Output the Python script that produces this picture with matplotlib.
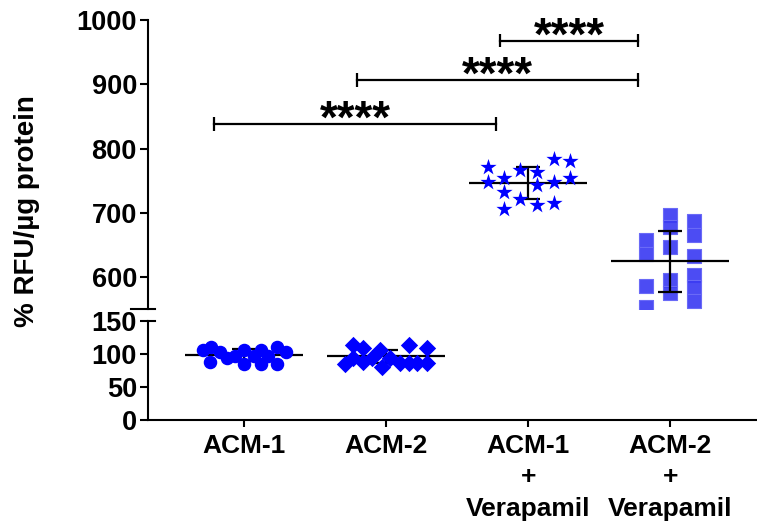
import matplotlib
matplotlib.use("Agg")
import matplotlib.pyplot as plt

plt.rcParams['font.family'] = ['Liberation Sans', 'DejaVu Sans']
plt.rcParams['font.weight'] = 'bold'

groups = ["ACM-1", "ACM-2", "ACM-1\n+\nVerapamil", "ACM-2\n+\nVerapamil"]

# x offsets inside each group (scatter spread) and values
acm1_dx = [-0.29, -0.23, -0.17, -0.24, -0.12, -0.06, 0.0, 0.0, 0.07, 0.12, 0.12, 0.17, 0.23, 0.23, 0.30]
acm1_y = [106, 111, 102.5, 87.5, 94, 96, 106, 85, 96, 105, 85, 96, 110, 85, 102.5]

acm2_dx = [-0.285, -0.23, -0.23, -0.16, -0.16, -0.095, -0.04, -0.025, 0.025, 0.10, 0.16, 0.16, 0.22, 0.29, 0.29]
acm2_y = [85, 114, 94, 109, 87.5, 94, 105, 80, 94, 86, 114, 86, 86, 109, 86]

acm1v_dx = [-0.284, -0.284, -0.167, -0.167, -0.167, -0.054, -0.054, 0.063, 0.063, 0.063, 0.18, 0.18, 0.18, 0.297, 0.297]
acm1v_y = [772, 748, 754, 732, 706, 767, 722, 763, 743, 713, 784, 748, 715, 781, 754]

acm2v_dx = [-0.168, -0.168, -0.168, -0.168, 0, 0, 0, 0, 0, 0.17, 0.17, 0.17, 0.17, 0.17, 0.17]
acm2v_y = [658, 636, 587, 554, 697, 678, 647, 596, 576, 687, 666, 633, 604, 584, 563]

means = [97.5, 96, 746.5, 624.5]
sds = [9, 10, 24.7, 47]

# significance brackets: (x start, x end, height)
brackets = [(-0.207, 1.777, 838), (0.796, 2.775, 907), (1.805, 2.775, 968)]

fig = plt.figure(figsize=(7.57, 5.27), dpi=100)
left = 148 / 757
width = 1 - left
ax_top = fig.add_axes([left, 1 - 309.3 / 527, width, (309.3 - 20) / 527])
ax_bot = fig.add_axes([left, 1 - 420 / 527, width, (420 - 320.7) / 527])

blue = '#0000ff'
sq_face = (0.22, 0.22, 0.95, 0.9)

ax_bot.scatter([0 + d for d in acm1_dx], acm1_y, s=76, marker='o', color=blue, zorder=3, clip_on=False)
ax_bot.scatter([1 + d for d in acm2_dx], acm2_y, s=78, marker='D', color=blue, zorder=3, clip_on=False,
               linewidths=0)
ax_top.scatter([2 + d for d in acm1v_dx], acm1v_y, s=150, marker='*', color=blue, zorder=3, linewidths=0)
ax_top.scatter([3 + d for d in acm2v_dx], acm2v_y, s=100, marker='s', facecolor=sq_face,
               edgecolor='#6a6af7', linewidths=0.8, zorder=2)

for i, (m, sd) in enumerate(zip(means, sds)):
    ax = ax_bot if i < 2 else ax_top
    ax.hlines(m, i - 0.415, i + 0.415, color='black', lw=1.6, zorder=2.5)
    ax.vlines(i, m - sd, m + sd, color='black', lw=1.6, zorder=2.5)
    ax.hlines([m - sd, m + sd], i - 0.085, i + 0.085, color='black', lw=1.6, zorder=2.5)

for x0, x1, h in brackets:
    ax_top.plot([x0, x1], [h, h], color='black', lw=1.6, clip_on=False)
    ax_top.vlines([x0, x1], h - 10.5, h + 10.5, color='black', lw=1.6, clip_on=False)
    ax_top.text((x0 + x1) / 2, h - 14, "****", ha='center', va='baseline',
                fontsize=33, fontweight='bold', clip_on=False)

for ax in (ax_top, ax_bot):
    ax.set_xlim(-0.674, 3.61)
    ax.spines['top'].set_visible(False)
    ax.spines['right'].set_visible(False)
    ax.spines['left'].set_linewidth(1.5)
    ax.spines['bottom'].set_linewidth(1.5)
    ax.tick_params(axis='y', length=6, width=1.5, pad=2, labelsize=19.5)
    ax.set_facecolor('none')

ax_top.set_ylim(550, 1000)
ax_top.set_yticks([600, 700, 800, 900, 1000])
ax_top.spines['bottom'].set_visible(False)
ax_top.tick_params(axis='x', bottom=False, labelbottom=False)

ax_bot.set_ylim(0, 150)
ax_bot.set_yticks([0, 50, 100, 150])
ax_bot.set_xticks(range(4))
ax_bot.set_xticklabels(groups, fontsize=19, fontweight='bold', linespacing=1.4)
ax_bot.tick_params(axis='x', length=5, width=1.5, pad=5)

# small marks at the axis break
ax_top.plot([-0.028, 0.012], [0, 0], transform=ax_top.transAxes, color='black', lw=1.5, clip_on=False)
ax_bot.plot([0.0, 0.012], [1, 1], transform=ax_bot.transAxes, color='black', lw=1.5, clip_on=False)

for lab in ax_top.get_yticklabels() + ax_bot.get_yticklabels():
    lab.set_fontweight('bold')

fig.text(26.7 / 757, 1 - 211 / 527, "% RFU/µg protein", rotation=90, ha='center', va='center',
         fontsize=20, fontweight='bold')

fig.savefig("out.png", dpi=100)
